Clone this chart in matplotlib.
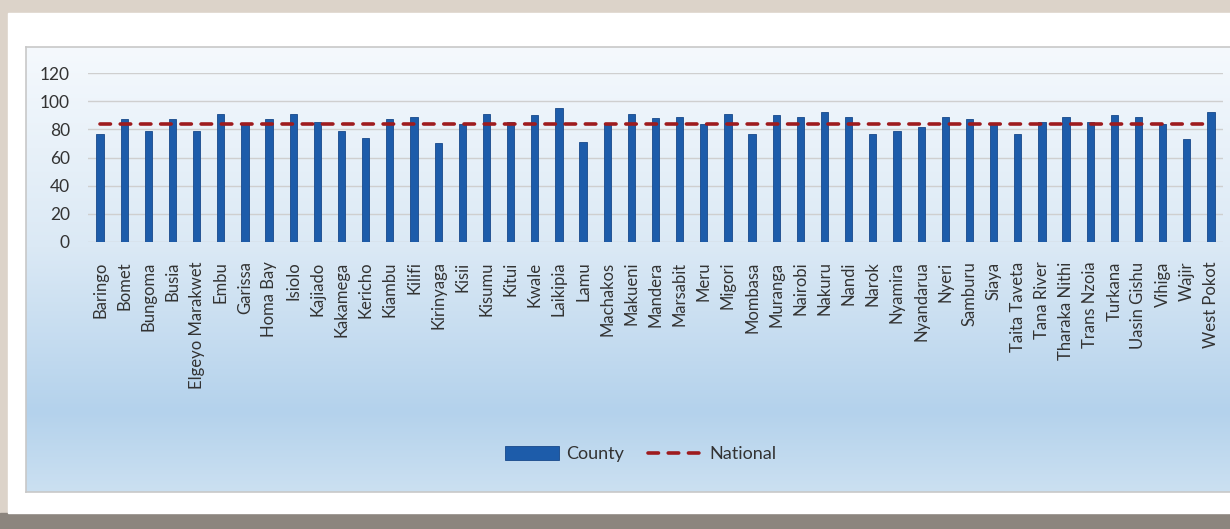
import numpy as np
import matplotlib.pyplot as plt
from matplotlib.colors import LinearSegmentedColormap
from matplotlib.patches import Rectangle

counties = ["Baringo", "Bomet", "Bungoma", "Busia", "Elgeyo Marakwet", "Embu",
            "Garissa", "Homa Bay", "Isiolo", "Kajiado", "Kakamega", "Kericho",
            "Kiambu", "Kilifi", "Kirinyaga", "Kisii", "Kisumu", "Kitui", "Kwale",
            "Laikipia", "Lamu", "Machakos", "Makueni", "Mandera", "Marsabit",
            "Meru", "Migori", "Mombasa", "Muranga", "Nairobi", "Nakuru", "Nandi",
            "Narok", "Nyamira", "Nyandarua", "Nyeri", "Samburu", "Siaya",
            "Taita Taveta", "Tana River", "Tharaka Nithi", "Trans Nzoia",
            "Turkana", "Uasin Gishu", "Vihiga", "Wajir", "West Pokot"]
county = [77, 87, 79, 87, 79, 91, 84, 87, 91, 85, 79, 74,
          87, 89, 70, 84, 91, 85, 90, 95, 71, 84, 91, 88, 89,
          84, 91, 77, 90, 89, 92, 89, 77, 79, 82, 89, 87, 84,
          77, 85, 89, 85, 90, 89, 84, 73, 92]
national = 84
yticks = [0, 20, 40, 60, 80, 100, 120]

W, H = 1230, 529
fig = plt.figure(figsize=(W / 100, H / 100), dpi=100)
fig.patch.set_facecolor("#dcd3c9")

# white card + bottom shadow strip
fig.add_artist(Rectangle((0, 0), 1, 16 / H, transform=fig.transFigure,
                         color="#8c857e", zorder=0))
fig.add_artist(Rectangle((8 / W, 16 / H), 1, (513 - 13) / H,
                         transform=fig.transFigure, color="white", zorder=0))

# gradient chart area
bg = fig.add_axes([26 / W, (H - 492) / H, (W - 26) / W + 0.01, (492 - 47) / H],
                  zorder=0)
cmap = LinearSegmentedColormap.from_list(
    "bg", [(0, "#f5f9fd"), (0.45, "#dbe9f5"), (0.82, "#b4d2ec"), (1, "#cbe0f1")])
bg.imshow(np.linspace(0, 1, 256).reshape(-1, 1), aspect="auto", cmap=cmap,
          extent=(0, 1, 0, 1))
bg.set_xticks([])
bg.set_yticks([])
for s in bg.spines.values():
    s.set_color("#c8c8c8")
    s.set_linewidth(1.2)

ax = fig.add_axes([88 / W, (H - 242) / H, (1223 - 88) / W, (242 - 73) / H],
                  zorder=1)
ax.set_facecolor("none")
x = np.arange(len(counties))
ax.bar(x, county, width=0.3, color="#1d5caa", edgecolor="#17488a",
       linewidth=0.6, label="County", zorder=3)
ax.plot(x, [national] * len(x), color="#9e1b1e", lw=2.6, dashes=(2.9, 2.7),
        dash_capstyle="round", label="National", zorder=4)

ax.set_xlim(-0.5, len(counties) - 0.5)
ax.set_ylim(0, 120)
ax.set_yticks(yticks)
ax.set_xticks(x)
ax.set_xticklabels(counties, rotation=90, fontsize=12, color="#333333",
                   family="Lato")
for lab in ax.get_yticklabels():
    lab.set_fontsize(12.5)
    lab.set_color("#333333")
    lab.set_family("Lato")
ax.tick_params(axis="both", length=0)
ax.tick_params(axis="x", pad=14)
ax.tick_params(axis="y", pad=13)
ax.grid(axis="y", color="#cfcfcf", lw=1, zorder=0)
for s in ax.spines.values():
    s.set_visible(False)

handles, labels = ax.get_legend_handles_labels()
order = [labels.index("County"), labels.index("National")]
fig.legend([handles[i] for i in order], [labels[i] for i in order],
           loc="center", bbox_to_anchor=(0.521, 1 - 454 / H), ncol=2,
           frameon=False, prop={"family": "Lato", "size": 13},
           handlelength=3, handleheight=0.8, columnspacing=1.3,
           handletextpad=0.4, labelcolor="#333333")

fig.savefig("out.png", dpi=100, facecolor=fig.get_facecolor())
